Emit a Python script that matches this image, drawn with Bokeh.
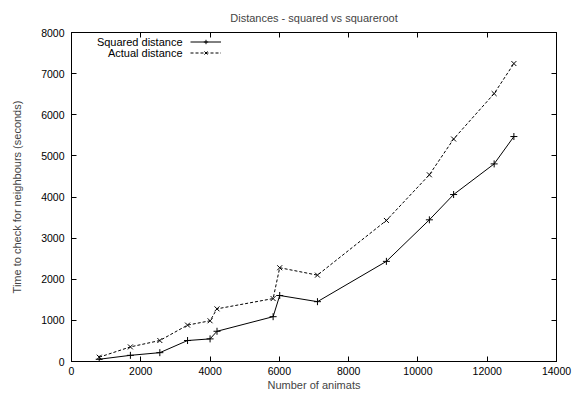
from bokeh.plotting import figure
from bokeh.models import (LinearAxis, SingleIntervalTicker, Range1d, Legend, LegendItem,
                          Label, CustomLabelingPolicy)
from bokeh.embed import file_html
from bokeh.resources import INLINE

# Data
animats = [800, 1700, 2550, 3350, 4000, 4200, 5820, 6010, 7100, 9090, 10330, 11030, 12200, 12770]
squared_time = [55, 150, 215, 510, 550, 735, 1090, 1605, 1455, 2435, 3445, 4060, 4805, 5470]
actual_time = [105, 355, 510, 885, 990, 1280, 1530, 2280, 2100, 3430, 4540, 5410, 6515, 7245]

title_text = "Distances - squared vs squareroot"
x_label = "Number of animats"
y_label = "Time to check for neighbours (seconds)"
series_names = ["Squared distance", "Actual distance"]

FONT = "Liberation Sans"
FS = "11px"
TFS = "10.5px"

p = figure(width=574, height=393, output_backend="svg", toolbar_location=None,
           x_range=Range1d(0, 14000), y_range=Range1d(0, 8000),
           x_axis_type=None, y_axis_type=None,
           min_border_left=71, min_border_right=18, min_border_top=32, min_border_bottom=31)

p.title.text = title_text
p.title.align = "center"
p.title.text_font = FONT
p.title.text_font_size = FS
p.title.text_font_style = "normal"
p.title.standoff = 10

p.xgrid.visible = False
p.ygrid.visible = False
p.outline_line_color = "black"
p.outline_line_width = 1
p.background_fill_color = "white"
p.border_fill_color = "white"


def style_axis(ax, show_labels):
    ax.major_tick_in = 5
    ax.major_tick_out = 0
    ax.minor_tick_in = 0
    ax.minor_tick_out = 0
    ax.axis_line_color = "black"
    ax.major_tick_line_color = "black"
    ax.major_label_text_font = FONT
    ax.major_label_text_font_size = TFS if show_labels else "1px"
    ax.major_label_text_color = "black"
    ax.axis_label_text_font = FONT
    ax.axis_label_text_font_size = FS
    ax.axis_label_text_font_style = "normal"
    if not show_labels:
        ax.major_label_standoff = 0
        ax.major_label_policy = CustomLabelingPolicy(code="return new Set()")


xt = SingleIntervalTicker(interval=2000, num_minor_ticks=0)
yt = SingleIntervalTicker(interval=1000, num_minor_ticks=0)

xb = LinearAxis(ticker=xt, axis_label=x_label)
style_axis(xb, True)
xb.major_label_standoff = 5
xb.axis_label_standoff = 1
p.add_layout(xb, "below")

yl = LinearAxis(ticker=yt, axis_label=y_label)
style_axis(yl, True)
yl.major_label_standoff = 7
yl.axis_label_standoff = 15
p.add_layout(yl, "left")

xa = LinearAxis(ticker=xt)
style_axis(xa, False)
p.add_layout(xa, "above")

yr = LinearAxis(ticker=yt)
style_axis(yr, False)
p.add_layout(yr, "right")

l1 = p.line(animats, squared_time, line_color="black", line_width=1)
m1 = p.scatter(animats, squared_time, marker="cross", size=7, line_color="black", line_width=1)
l2 = p.line(animats, actual_time, line_color="black", line_width=1, line_dash="3 2")
m2 = p.scatter(animats, actual_time, marker="x", size=7, line_color="black", line_width=1)

# gnuplot-style key: sample on the right, right-aligned text on the left
legend = Legend(items=[LegendItem(label=" ", renderers=[l1, m1]),
                       LegendItem(label=" ", renderers=[l2, m2])],
                location=(119, 303), padding=0, margin=0, spacing=0,
                glyph_width=31, glyph_height=11, label_height=11, label_width=1,
                label_standoff=0, label_text_font=FONT, label_text_font_size=FS,
                border_line_color=None, background_fill_alpha=0)
p.add_layout(legend, "center")

for name, ypos in zip(series_names, [319.5, 308.5]):
    p.add_layout(Label(x=111, y=ypos, x_units="screen", y_units="screen", text=name,
                       text_align="right", text_baseline="middle",
                       text_font=FONT, text_font_size=FS, text_color="black"))

open("out.html", "w").write(file_html(p, INLINE))
